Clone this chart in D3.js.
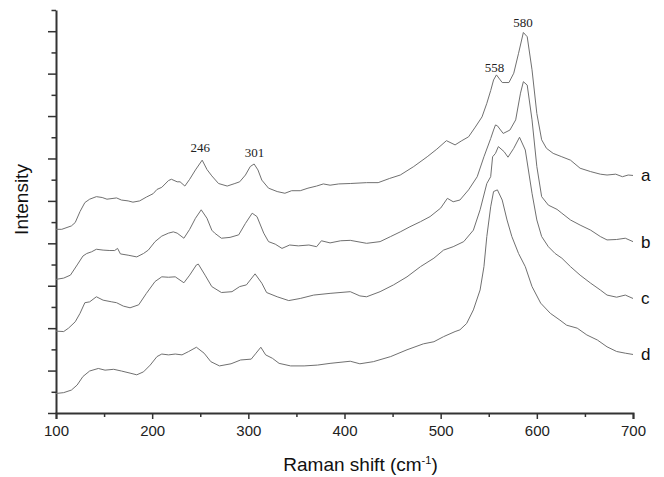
<!DOCTYPE html>
<html>
<head>
<meta charset="utf-8">
<script src="https://cdn.jsdelivr.net/npm/d3@7"></script>
<style>
  body { margin: 0; background: #fff; }
  text { font-family: "Liberation Sans", Arial, sans-serif; }
</style>
</head>
<body>
<div id="chart"></div>
<script>
// Raman spectra, four samples stacked with an offset
var shiftA = [100,106,116,120,125,130,135,142,148,153,163,168,175,180,187,194,201,205,210,217,220,226,229,234,239,245,252,257,262,269,278,286,291,297,302,306,310,314,321,330,338,345,354,362,371,378,385,394,406,423,435,447,458,472,486,496,506,515,522,529,536,543,548,552,555,558,564,571,576,581,586,590,595,600,605,610,617,626,635,645,656,666,673,682,689,695,700]
var intA  = [4.33,4.33,4.41,4.49,4.75,4.96,5.04,5.10,5.08,5.04,5.07,5.02,5.00,4.97,5.00,5.09,5.17,5.27,5.32,5.48,5.51,5.45,5.45,5.35,5.51,5.73,5.96,5.74,5.59,5.41,5.35,5.41,5.45,5.61,5.81,5.87,5.73,5.49,5.30,5.22,5.18,5.24,5.24,5.30,5.35,5.40,5.37,5.40,5.41,5.43,5.43,5.53,5.61,5.81,6.04,6.22,6.42,6.32,6.42,6.51,6.74,6.98,7.30,7.60,7.85,7.97,7.79,7.79,8.01,8.48,8.97,8.87,8.09,7.06,6.44,6.24,6.12,6.04,5.96,5.77,5.69,5.63,5.61,5.63,5.57,5.61,5.60]

var shiftB = [100,108,115,122,128,132,137,142,149,156,161,164,167,175,184,191,196,203,210,217,222,226,233,239,245,251,257,262,265,272,281,290,297,304,309,316,321,328,335,343,352,363,371,376,385,396,406,423,437,448,458,468,479,489,500,507,513,520,529,538,545,552,555,557,559,565,572,578,583,586,590,595,600,605,612,621,626,635,645,656,666,673,683,692,700]
var intB  = [3.15,3.18,3.25,3.49,3.70,3.76,3.80,3.86,3.84,3.83,3.83,3.88,3.75,3.72,3.68,3.76,3.84,4.04,4.17,4.24,4.27,4.24,4.12,4.33,4.59,4.79,4.59,4.31,4.24,4.12,4.14,4.20,4.47,4.71,4.63,4.24,4.04,3.98,3.88,3.96,3.94,3.96,3.92,4.06,4.01,4.06,4.07,4.00,4.04,4.16,4.27,4.39,4.51,4.63,4.83,5.06,4.98,5.02,5.26,5.57,6.04,6.47,6.67,6.79,6.77,6.59,6.67,6.91,7.54,7.81,7.73,6.91,5.81,5.10,4.90,4.80,4.71,4.55,4.43,4.31,4.16,4.08,4.09,4.12,4.04]

var shiftC = [100,108,113,120,125,130,135,142,149,158,163,170,177,186,194,203,210,217,224,233,239,246,248,255,262,272,283,291,298,307,314,319,330,342,354,368,385,406,416,423,437,451,465,479,493,503,513,524,534,541,548,552,554,557,560,566,570,576,582,588,595,600,605,612,619,626,635,645,656,666,673,683,692,700]
var intC  = [1.93,1.92,2.00,2.15,2.35,2.60,2.62,2.74,2.66,2.62,2.60,2.52,2.48,2.55,2.82,3.10,3.21,3.20,3.21,3.07,3.25,3.49,3.51,3.25,2.98,2.84,2.86,2.98,3.02,3.28,3.06,2.84,2.74,2.65,2.70,2.78,2.82,2.86,2.76,2.74,2.86,3.02,3.21,3.45,3.65,3.84,3.92,4.04,4.31,4.79,5.41,5.57,6.04,6.12,6.28,6.16,6.03,6.24,6.50,6.20,5.18,4.55,4.16,3.92,3.76,3.65,3.45,3.25,3.06,2.90,2.78,2.73,2.78,2.70]

var shiftD = [100,108,116,122,128,135,144,151,160,168,177,184,191,198,205,210,217,224,231,238,246,254,261,270,282,292,303,308,313,318,325,332,344,358,372,385,406,416,430,448,465,482,493,503,515,520,527,534,541,545,548,552,555,559,564,569,574,581,588,595,604,614,624,631,642,652,663,673,683,692,700]
var intD  = [0.46,0.48,0.54,0.66,0.86,0.99,1.05,1.01,1.03,0.99,0.94,0.90,0.97,1.13,1.33,1.39,1.37,1.39,1.37,1.45,1.55,1.41,1.21,1.11,1.16,1.25,1.27,1.41,1.55,1.37,1.29,1.17,1.11,1.11,1.13,1.17,1.22,1.16,1.21,1.33,1.49,1.63,1.68,1.80,1.92,1.96,2.11,2.43,2.90,3.45,4.16,4.86,5.22,5.26,5.02,4.55,4.16,3.76,3.45,2.98,2.59,2.35,2.19,2.07,2.00,1.84,1.72,1.56,1.45,1.41,1.38]

var seriesNames = ["a", "b", "c", "d"]
var peakText  = ["246", "301", "558", "580"]
var peakShift = [250, 306.5, 556, 585.5]
var peakLevel = [6.15, 6.03, 8.03, 9.10]

var xTicks = d3.range(100, 701, 50)
var yTicks = d3.range(0, 9.51, 0.5)

var margin = {top: 10, right: 31, bottom: 64, left: 56}
var width = 664 - margin.left - margin.right
var height = 477 - margin.top - margin.bottom

var svg = d3.select("#chart")
  .append("svg")
    .attr("width", 664)
    .attr("height", 477)

var g = svg.append("g")
    .attr("transform", "translate(" + margin.left + "," + margin.top + ")")

var x = d3.scaleLinear().domain([100, 700]).range([0, width])
var y = d3.scaleLinear().domain([0, 9.5]).range([height, 0])

var axisColor = "#333"

// x axis
var xAxis = g.append("g")
    .attr("transform", "translate(0," + height + ")")
    .call(d3.axisBottom(x)
      .tickValues(xTicks)
      .tickSize(6)
      .tickPadding(6)
      .tickFormat(function(d) { return d % 100 == 0 ? d : "" }))
xAxis.select(".domain").attr("stroke", axisColor).attr("stroke-width", 2)
xAxis.selectAll(".tick line")
    .attr("stroke", axisColor).attr("stroke-width", 1.5)
    .attr("y2", function(d) { return d % 100 == 0 ? 6 : 4 })
xAxis.selectAll(".tick text")
    .attr("fill", "#222")
    .style("font-size", "15px")

// y axis, no labels
var yAxis = g.append("g")
    .call(d3.axisLeft(y)
      .tickValues(yTicks)
      .tickSizeOuter(0)
      .tickFormat(""))
yAxis.select(".domain").attr("stroke", axisColor).attr("stroke-width", 2)
yAxis.selectAll(".tick line")
    .attr("stroke", axisColor).attr("stroke-width", 1.5)
    .attr("x2", function(d) { return d % 1 == 0 ? -8 : -4.5 })

// axis titles
g.append("text")
    .attr("x", width / 2 + 16)
    .attr("y", height + 58)
    .attr("text-anchor", "middle")
    .attr("fill", "#111")
    .style("font-size", "19px")
    .text("Raman shift (cm")
  .append("tspan")
    .attr("dy", -7)
    .style("font-size", "11px")
    .text("-1")
  .select(function() { return this.parentNode })
  .append("tspan")
    .attr("dy", 7)
    .text(")")

g.append("text")
    .attr("transform", "translate(" + (-28) + "," + (height / 2 - 12) + ") rotate(-90)")
    .attr("text-anchor", "middle")
    .attr("fill", "#111")
    .style("font-size", "19px")
    .text("Intensity")

// spectra
var spectra = [
  {name: seriesNames[0], shift: shiftA, value: intA},
  {name: seriesNames[1], shift: shiftB, value: intB},
  {name: seriesNames[2], shift: shiftC, value: intC},
  {name: seriesNames[3], shift: shiftD, value: intD}
]

var line = d3.line()
    .x(function(d) { return x(d[0]) })
    .y(function(d) { return y(d[1]) })

g.selectAll("path.spectrum")
  .data(spectra)
  .enter()
    .append("path")
    .attr("class", "spectrum")
    .attr("fill", "none")
    .attr("stroke", "#707070")
    .attr("stroke-width", 1)
    .attr("stroke-linejoin", "round")
    .attr("d", function(s) { return line(d3.zip(s.shift, s.value)) })

// series letters at the right end
g.selectAll("text.series")
  .data(spectra)
  .enter()
    .append("text")
    .attr("class", "series")
    .attr("x", x(700) + 8)
    .attr("y", function(s) { return y(s.value[s.value.length - 1]) + 6 })
    .attr("fill", "#111")
    .style("font-size", "17px")
    .text(function(s) { return s.name })

// peak positions
g.selectAll("text.peak")
  .data(peakText)
  .enter()
    .append("text")
    .attr("class", "peak")
    .attr("x", function(d, i) { return x(peakShift[i]) })
    .attr("y", function(d, i) { return y(peakLevel[i]) })
    .attr("text-anchor", "middle")
    .attr("fill", "#222")
    .style("font-family", "'Liberation Serif', 'Times New Roman', serif")
    .style("font-size", "13px")
    .text(function(d) { return d })
</script>
</body>
</html>
